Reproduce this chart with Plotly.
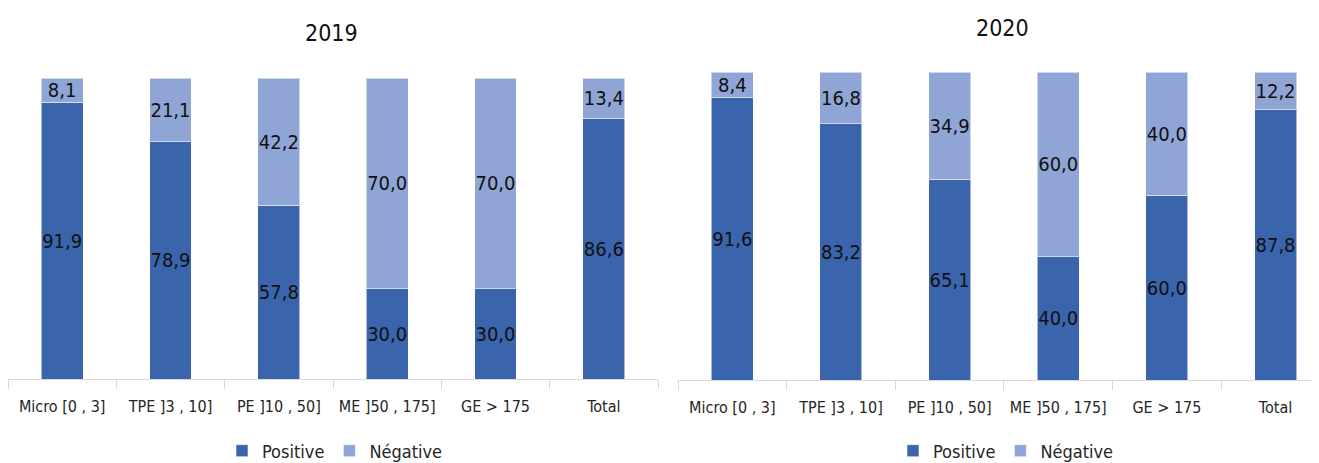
import plotly.graph_objects as go

categories = ["Micro [0 , 3]", "TPE ]3 , 10]", "PE ]10 , 50]", "ME ]50 , 175]", "GE > 175", "Total"]
pos_2019 = [91.9, 78.9, 57.8, 30.0, 30.0, 86.6]
neg_2019 = [8.1, 21.1, 42.2, 70.0, 70.0, 13.4]
pos_2020 = [91.6, 83.2, 65.1, 40.0, 60.0, 87.8]
neg_2020 = [8.4, 16.8, 34.9, 60.0, 40.0, 12.2]
series_names = ["Positive", "Négative"]
years = ["2019", "2020"]

# page body has an 8px margin: the figure is offset inside the window
OFF = 8
W, H = 1319 - OFF, 463 - OFF
FONT = "DejaVu Sans Condensed, Liberation Sans Narrow, Roboto, sans-serif"
C_POS = "#3A64AC"
C_NEG = "#8FA5D5"


def px(x):
    return (x - OFF) / W


def py(y):
    return 1 - (y - OFF) / H


def f(size, color="#262626"):
    return dict(family=FONT, size=size, color=color)


fig = go.Figure()


def add_pair(pos, neg, xa, ya, leg):
    for name, vals, col in [(series_names[0], pos, C_POS), (series_names[1], neg, C_NEG)]:
        fig.add_trace(go.Bar(
            x=categories, y=vals, name=name, xaxis=xa, yaxis=ya, legend=leg,
            marker=dict(color=col, line=dict(color="rgba(255,255,255,0.55)", width=1)),
            text=[f"{v:.1f}".replace(".", ",") for v in vals],
            textposition="inside", insidetextanchor="middle", textangle=0,
            constraintext="none",
            textfont=f(20, "#111111"),
            hoverinfo="skip",
        ))


add_pair(pos_2019, neg_2019, "x", "y", "legend")
add_pair(pos_2020, neg_2020, "x2", "y2", "legend2")

axis_common = dict(
    type="category", showline=True, linecolor="#D9D9D9", linewidth=1,
    ticks="outside", tickson="boundaries", ticklen=9, tickcolor="#D9D9D9",
    tickfont=f(16), showgrid=False, tickangle=0, automargin=False,
    zeroline=False, ticklabelstandoff=13,
)
yaxis_common = dict(range=[0, 100], visible=False, showgrid=False, zeroline=False, automargin=False)

legend_common = dict(orientation="h", xanchor="center", yanchor="middle", font=f(18),
                     itemwidth=30, traceorder="normal", bgcolor="rgba(0,0,0,0)")

fig.update_layout(
    width=W, height=H, barmode="stack", bargap=0.613,
    margin=dict(l=0, r=0, t=0, b=0, autoexpand=False),
    paper_bgcolor="white", plot_bgcolor="white",
    font=f(16),
    xaxis=dict(domain=[px(8), px(658)], range=[-0.5, 5.5], anchor="y", **axis_common),
    yaxis=dict(domain=[py(379), py(78)], anchor="x", **yaxis_common),
    xaxis2=dict(domain=[px(678), 1.0], range=[-0.5, 5.40], anchor="y2", **axis_common),
    yaxis2=dict(domain=[py(380), py(72)], anchor="x2", **yaxis_common),
    legend=dict(x=px(335), y=py(451), **legend_common),
    legend2=dict(x=px(1006), y=py(451), **legend_common),
    annotations=[
        dict(text=years[0], x=px(331), y=py(33), xref="paper", yref="paper",
             xanchor="center", yanchor="middle", showarrow=False, font=f(23, "#111111")),
        dict(text=years[1], x=px(1002), y=py(28), xref="paper", yref="paper",
             xanchor="center", yanchor="middle", showarrow=False, font=f(23, "#111111")),
    ],
)

fig.write_html("out.html")
